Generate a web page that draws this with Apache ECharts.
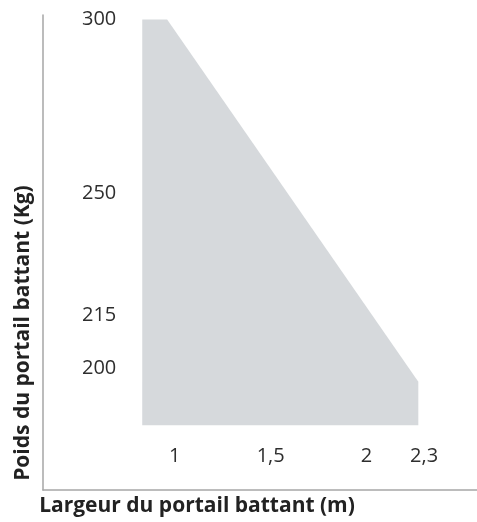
<!DOCTYPE html>
<html>
<head>
<meta charset="utf-8">
<script src="https://cdn.jsdelivr.net/npm/echarts@6/dist/echarts.min.js"></script>
<style>
html,body{margin:0;padding:0;background:#fff;}
#chart{width:477px;height:522px;}
</style>
</head>
<body>
<div id="chart"></div>
<script>
// Polygon outline of the admissible zone (width in m, weight in kg)
var widths  = [0.83, 0.83, 0.96, 2.27, 2.27];
var weights = [183.5, 300, 300, 196, 183.5];
// Tick labels
var xTicks = [1, 1.5, 2, 2.3];
var yTicks = [200, 215, 250, 300];

var xName = 'Largeur du portail battant (m)';
var yName = 'Poids du portail battant (Kg)';

var fmt = function (v) { return String(v).replace('.', ','); };
var font = '"Open Sans", "Noto Sans", sans-serif';

var chart = echarts.init(document.getElementById('chart'));
chart.setOption({
  animation: false,
  backgroundColor: '#fff',
  grid: { left: 43, top: 15, right: 0, bottom: 30, containLabel: false },
  xAxis: {
    type: 'value',
    min: 0.3125,
    max: 2.576,
    name: xName,
    nameLocation: 'middle',
    nameGap: 4,
    nameTextStyle: {
      fontFamily: font, fontSize: 21, fontWeight: 'bold', color: '#222',
      padding: [0, 126, 0, 0]
    },
    axisLine: { show: true, lineStyle: { color: '#a6a6a6', width: 1.5 } },
    axisTick: { show: false },
    splitLine: { show: false },
    axisLabel: {
      customValues: xTicks,
      inside: true,
      margin: 24,
      formatter: fmt,
      fontFamily: font, fontSize: 20, color: '#2e2e2e'
    }
  },
  yAxis: {
    type: 'value',
    min: 164.92,
    max: 301.29,
    name: yName,
    nameLocation: 'middle',
    nameRotate: 90,
    nameGap: 9,
    nameTextStyle: {
      fontFamily: font, fontSize: 21, fontWeight: 'bold', color: '#222',
      padding: [0, 161, 0, 0]
    },
    axisLine: { show: true, lineStyle: { color: '#a6a6a6', width: 1.5 } },
    axisTick: { show: false },
    splitLine: { show: false },
    axisLabel: {
      customValues: yTicks,
      inside: true,
      margin: 39,
      formatter: fmt,
      fontFamily: font, fontSize: 20, color: '#2e2e2e'
    }
  },
  series: [{
    type: 'custom',
    data: [0],
    renderItem: function (params, api) {
      var pts = widths.map(function (w, i) { return api.coord([w, weights[i]]); });
      return {
        type: 'polygon',
        shape: { points: pts },
        style: { fill: '#d6d9dc' }
      };
    }
  }]
});
</script>
</body>
</html>
